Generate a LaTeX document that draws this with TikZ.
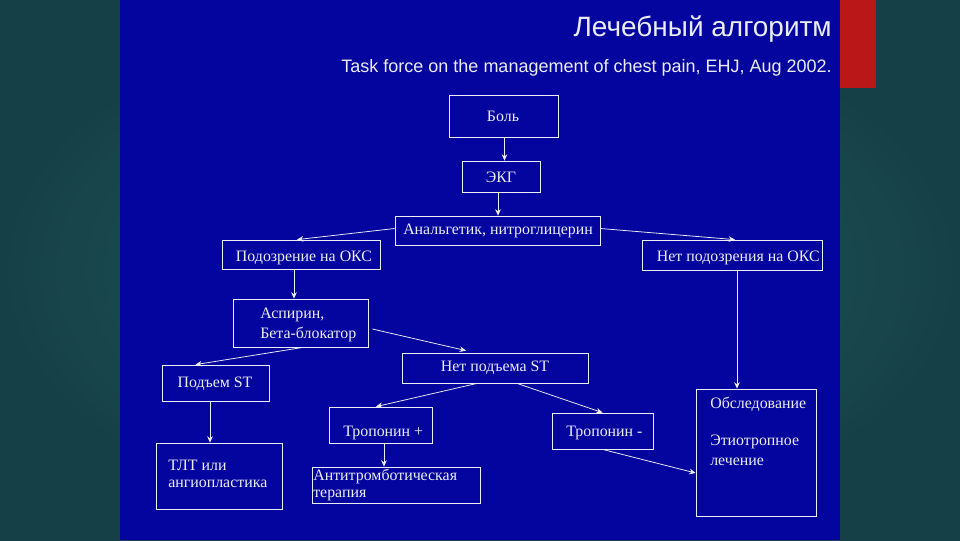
\documentclass[tikz,border=0pt]{standalone}
\usepackage{fontspec}
\setmainfont{Liberation Serif}
\newfontfamily\arialf{Liberation Sans}
\usetikzlibrary{fit,calc,arrows.meta}
\definecolor{slideblue}{RGB}{4,4,158}
\definecolor{tealdark}{RGB}{22,64,72}
\definecolor{teallight}{RGB}{36,94,98}
\definecolor{redbar}{RGB}{186,24,24}
\definecolor{txt}{RGB}{236,236,244}
\tikzset{
  box/.style={draw=txt, line width=0.55pt, inner sep=0pt, rectangle},
  lbl/.style={text=txt, font=\fontsize{11.3}{13.5}\selectfont, inner sep=0pt},
  lbll/.style={lbl, anchor=west, align=left},
  conn/.style={draw=txt, line width=0.55pt, -{Stealth[length=4.5pt,width=4pt]}},
}
\begin{document}
\begin{tikzpicture}[x=0.025cm,y=-0.025cm]
\useasboundingbox (0,0) rectangle (960,540);
% background
\shade[inner color=teallight, outer color=tealdark] (0,0) rectangle (960,540);
\fill[slideblue] (120,0) rectangle (840,540);
\fill[redbar] (840,0) rectangle (876,88);
% titles
\node[anchor=east, text=txt, font=\arialf\fontsize{19.9}{23}\selectfont, inner sep=0pt] (title) at (832,29) {Лечебный алгоритм};
\node[anchor=east, text=txt, font=\arialf\fontsize{12.8}{15}\selectfont, inner sep=0pt] (sub) at (832,68) {Task force on the management of chest pain, EHJ, Aug 2002.};
% boxes
\node[box, fit={(449,95)(558,137)}] (bol) {};
\node[box, fit={(462,161)(540,192)}] (ekg) {};
\node[box, fit={(395,216)(600,245)}] (an) {};
\node[box, fit={(222,240)(380,269)}] (pod) {};
\node[box, fit={(642,240)(822,270)}] (net) {};
\node[box, fit={(233,299)(368,347)}] (asp) {};
\node[box, fit={(402,353)(588,383)}] (nps) {};
\node[box, fit={(162,365)(269,401)}] (ps) {};
\node[box, fit={(329,407)(432,443)}] (tp) {};
\node[box, fit={(156,443)(282,509)}] (tlt) {};
\node[box, fit={(312,467)(480,503)}] (anti) {};
\node[box, fit={(552,413)(653,449)}] (tm) {};
\node[box, fit={(696,389)(816,516)}] (obs) {};
% texts
\node[lbl] (tbol) at (503,116) {Боль};
\node[lbl] (tekg) at (501,177) {ЭКГ};
\node[lbl] (tan) at (498,231) {Анальгетик, нитроглицерин};
\node[lbl] (tpod) at (304,258) {Подозрение на ОКС};
\node[lbl, anchor=east] (tnet) at (820,258) {Нет подозрения на ОКС};
\node[lbll] (tasp1) at (260,315) {Аспирин,};
\node[lbll] (tasp2) at (260,334) {Бета-блокатор};
\node[lbl] (tnps) at (495,368) {Нет подъема ST};
\node[lbl] (tps) at (215,384) {Подъем ST};
\node[lbll] (ttp) at (343,433) {Тропонин +};
\node[lbll] (ttlt1) at (168,465) {ТЛТ или};
\node[lbll] (ttlt2) at (168,484) {ангиопластика};
\node[lbll] (tanti1) at (313,476) {Антитромботическая};
\node[lbll] (tanti2) at (313,495) {терапия};
\node[lbll] (ttm) at (566,433) {Тропонин -};
\node[lbll] (tobs1) at (710,404) {Обследование};
\node[lbll] (tobs2) at (710,442) {Этиотропное};
\node[lbll] (tobs3) at (710,462) {лечение};
% connector helper points
\coordinate (c1) at ($(bol.south)+(1,0)$);
\coordinate (c2) at ($(ekg.south)+(-3,0)$);
\coordinate (c3) at ($(net.south)+(5,0)$);
\coordinate (c4) at ($(ps.south)+(-5.5,0)$);
\coordinate (c5) at ($(tp.south)+(3.5,0)$);
% connectors
\draw[conn] (c1) -- (c1 |- ekg.north);
\draw[conn] (c2) -- (c2 |- an.north);
\draw[conn] ($(an.west)+(0,-2)$) -- ($(pod.north)+(-4,0)$);
\draw[conn] ($(an.east)+(0,-2)$) -- ($(net.north)+(3,0)$);
\draw[conn] ($(pod.south)+(-7,0)$) -- ($(asp.north)+(-6.5,0)$);
\draw[conn] (c3) -- (c3 |- obs.north);
\draw[conn] ($(asp.east)+(4,6)$) -- ($(nps.north)+(-29,-2)$);
\draw[conn] ($(asp.south)+(2.5,0)$) -- ($(ps.north)+(-20,0)$);
\draw[conn] ($(nps.south)+(-18,0)$) -- ($(tp.north)+(-4.5,0)$);
\draw[conn] ($(nps.south)+(22,0)$) -- (tm.north);
\draw[conn] (c4) -- (c4 |- tlt.north);
\draw[conn] (c5) -- (c5 |- anti.north);
\draw[conn] (tm.south) -- ($(obs.west)+(0,20.5)$);
\end{tikzpicture}
\end{document}
